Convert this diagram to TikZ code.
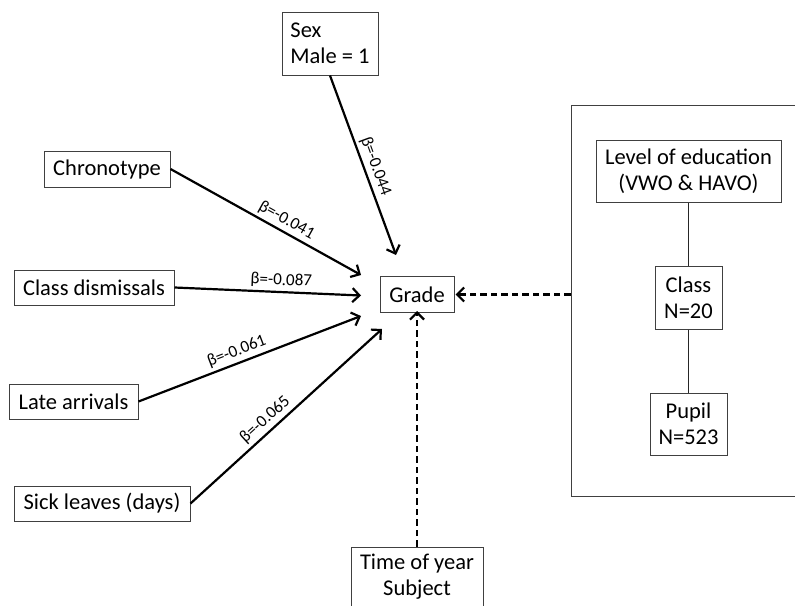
\documentclass[tikz,border=0pt]{standalone}
\usepackage{fontspec}
\setmainfont{Carlito}
\usetikzlibrary{arrows.meta}
\tikzset{
  box/.style={draw=black!75, line width=1pt, inner sep=0pt, align=center,
    font=\fontsize{22.5}{26}\selectfont},
  arr/.style={line width=2.2pt, -{Straight Barb[length=7pt,width=14pt,line width=2.2pt]}},
  darr/.style={arr, dash pattern=on 6.5pt off 4pt},
  lbl/.style={font=\fontsize{17}{19}\selectfont, sloped, above, inner sep=3pt},
  link/.style={line width=1.4pt, draw=black!85}
}
\begin{document}
\begin{tikzpicture}[x=1pt,y=-1pt]
\useasboundingbox (0,0) rectangle (795,605);
\clip (0,0) rectangle (795,605);
% nodes
\node[box, minimum width=96pt, minimum height=63pt, align=left] (sex) at (330,43.5) {Sex\\Male = 1};
\node[box, minimum width=126pt, minimum height=36pt] (chrono) at (107,169) {Chronotype};
\node[box, minimum width=160pt, minimum height=35pt] (dism) at (94,287.5) {Class dismissals};
\node[box, minimum width=129pt, minimum height=35pt] (late) at (73.5,401.5) {Late arrivals};
\node[box, minimum width=176pt, minimum height=35pt] (sick) at (102,503.5) {Sick leaves (days)};
\node[box, minimum width=74pt, minimum height=36pt] (grade) at (417,294.5) {Grade};
\node[box, minimum width=132pt, minimum height=60pt] (time) at (417,577) {Time of year\\Subject};
\node[draw=black!75, line width=1pt, minimum width=260pt, minimum height=390.5pt, inner sep=0pt] (level) at (701,300.75) {};
\node[box, minimum width=185pt, minimum height=62pt] (edu) at (688.5,171) {Level of education\\(VWO \& HAVO)};
\node[box, minimum width=67pt, minimum height=63pt] (cls) at (688.5,297.5) {Class\\N=20};
\node[box, minimum width=77pt, minimum height=62pt] (pupil) at (688.5,424) {Pupil\\N=523};
% arrow ends
\coordinate (e1) at (396,255);
\coordinate (e2) at (361,275);
\coordinate (e3) at (361,295.5);
\coordinate (e4) at (361,316);
\coordinate (e5) at (382,329);
% connectors
\draw[arr] (sex.south) -- node[lbl, pos=0.53] {β=-0.044} (e1);
\draw[arr] (chrono.east) -- node[lbl, pos=0.58] {β=-0.041} (e2);
\draw[arr] (dism.east) -- node[lbl, pos=0.57] {β=-0.087} (e3);
\draw[arr] (late.east) -- node[lbl, pos=0.46] {β=-0.061} (e4);
\draw[arr] (sick.east) -- node[lbl, pos=0.43] {β=-0.065} (e5);
\draw[darr] (level.west |- grade.east) -- ([xshift=1pt]grade.east);
\draw[darr] (time.north) -- ([yshift=2pt]grade.south);
\draw[link] (edu.south) -- (cls.north);
\draw[link] (cls.south) -- (pupil.north);
\end{tikzpicture}
\end{document}
